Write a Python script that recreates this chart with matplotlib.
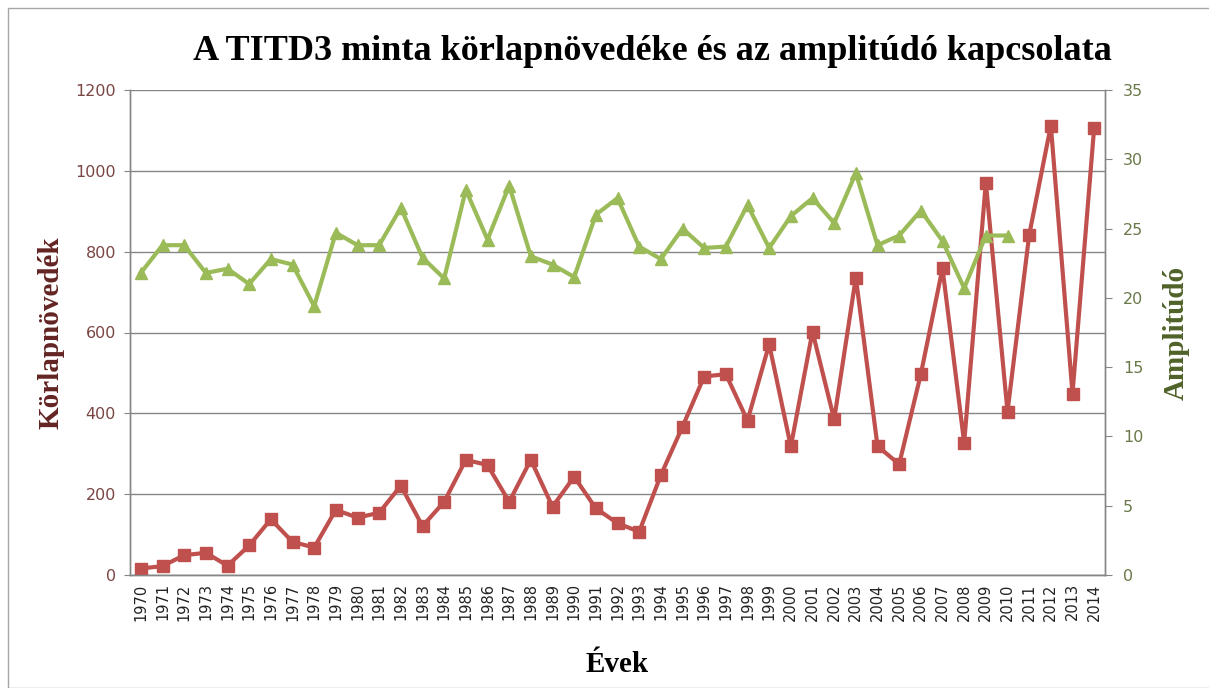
import matplotlib
matplotlib.use('Agg')
import matplotlib.pyplot as plt
from matplotlib.patches import Rectangle

# Évek és a két mért sorozat
evek = list(range(1970, 2015))
korlapnovedek = [16, 22, 49, 55, 23, 73, 138, 82, 68, 161,
                 142, 154, 221, 121, 181, 285, 272, 181, 285, 169,
                 243, 165, 128, 107, 247, 367, 491, 497, 382, 571,
                 318, 602, 385, 736, 319, 274, 497, 759, 327, 971,
                 404, 841, 1112, 449, 1107]
amplitudo = [21.8, 23.8, 23.8, 21.8, 22.1, 21.0, 22.8, 22.4, 19.4, 24.7,
             23.8, 23.8, 26.5, 22.9, 21.4, 27.8, 24.2, 28.1, 23.0, 22.4,
             21.5, 26.0, 27.2, 23.7, 22.8, 25.0, 23.6, 23.7, 26.7, 23.6,
             25.9, 27.2, 25.4, 29.0, 23.8, 24.5, 26.3, 24.1, 20.7, 24.5,
             24.5]

bal_tick = [0, 200, 400, 600, 800, 1000, 1200]
jobb_tick = [0, 5, 10, 15, 20, 25, 30, 35]

PIROS = '#C0504D'
ZOLD = '#9BBB59'
SZURKE = '#868686'
BARNA = '#632523'
OLIVA = '#4F6228'
SERIF = 'Liberation Serif'

fig = plt.figure(figsize=(12.09, 6.88), dpi=100)
fig.patch.set_facecolor('white')

# a diagram kerete
fig.add_artist(Rectangle((8 / 1209, 0.0), 1.2, 1 - 8 / 688,
                         transform=fig.transFigure, fill=False,
                         edgecolor='#A6A6A6', linewidth=1.0))

ax = fig.add_axes([130 / 1209, 1 - 575 / 688, 975 / 1209, 485 / 688])
ax2 = ax.twinx()

x = list(range(len(evek)))
ax.plot(x, korlapnovedek, color=PIROS, linewidth=3, marker='s',
        markersize=8, zorder=3)
ax2.plot(x[:len(amplitudo)], amplitudo, color=ZOLD, linewidth=3, marker='^',
         markersize=9, zorder=3)

ax.set_xlim(-0.5, len(evek) - 0.5)
ax.set_ylim(0, 1200)
ax2.set_ylim(0, 35)
ax.set_yticks(bal_tick)
ax2.set_yticks(jobb_tick)
ax.set_xticks(x)
ax.set_xticklabels([str(e) for e in evek], rotation=90, fontsize=10.5,
                   color='#222222', family='DejaVu Sans')

ax.yaxis.grid(True, color=SZURKE, linewidth=1.0)
ax.set_axisbelow(True)

for a in (ax, ax2):
    for s in a.spines.values():
        s.set_color(SZURKE)
        s.set_linewidth(1.0)
    a.spines['top'].set_visible(False)

ax.tick_params(axis='y', colors=SZURKE, labelcolor=BARNA, labelsize=11.5,
               length=4, pad=6)
ax.tick_params(axis='x', length=0, pad=6)
ax2.tick_params(axis='y', colors=SZURKE, labelcolor=OLIVA, labelsize=11.5,
                length=5, pad=8)
for lbl in ax.get_yticklabels() + ax2.get_yticklabels():
    lbl.set_family('DejaVu Sans')
    lbl.set_alpha(0.85)

ax.set_ylabel('Körlapnövedék', family=SERIF, fontsize=21,
              fontweight='bold', color=BARNA, labelpad=8)
ax2.set_ylabel('Amplitúdó', family=SERIF, fontsize=21,
               fontweight='bold', color=OLIVA, labelpad=14)
ax.set_xlabel('Évek', family=SERIF, fontsize=21, fontweight='bold',
              color='black', labelpad=22)

fig.text(652 / 1209, 1 - 52 / 688,
         'A TITD3 minta körlapnövedéke és az amplitúdó kapcsolata',
         family=SERIF, fontsize=26, fontweight='bold', ha='center',
         va='center')

fig.savefig('out.png', dpi=100, facecolor='white')
